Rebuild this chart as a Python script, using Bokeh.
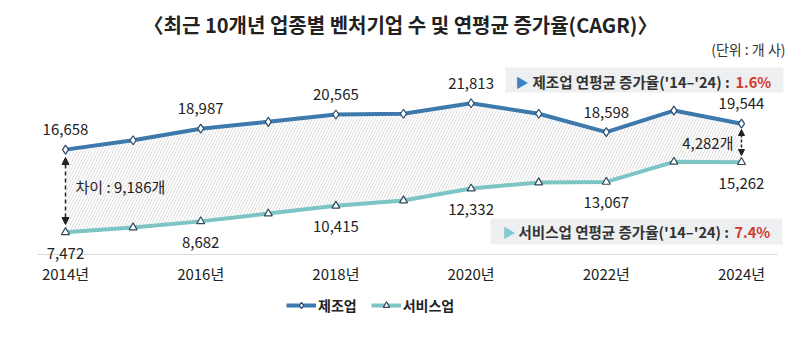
from bokeh.plotting import figure
from bokeh.models import Range1d, FixedTicker, Legend, LegendItem, Arrow, NormalHead
from bokeh.embed import file_html
from bokeh.resources import INLINE
from bokeh.core.properties import value

# ---------------- data ----------------
years = [2014, 2015, 2016, 2017, 2018, 2019, 2020, 2021, 2022, 2023, 2024]
manufacturing = [16658, 17700, 18987, 19750, 20565, 20650, 21813, 20650, 18598, 21000, 19544]
services = [7472, 8000, 8682, 9550, 10415, 11000, 12332, 13000, 13067, 15300, 15262]
labeled_years = [2014, 2016, 2018, 2020, 2022, 2024]
tick_labels = ["2014년", "2016년", "2018년", "2020년", "2022년", "2024년"]
series_names = ["제조업", "서비스업"]
cagr_values = ["1.6%", "7.4%"]
title_text = "〈최근 10개년 업종별 벤처기업 수 및 연평균 증가율(CAGR)〉"
unit_text = "(단위 : 개 사)"
axis_base = 5000

FONT = "Noto Sans CJK KR"
C_MAN = "#3D79AC"
C_SER = "#7DC5C4"
C_TXT = "#222222"
C_RED = "#D23A32"

W, H = 800, 337
BASE_PY = 254                      # pixel row of the axis baseline
X0, XS = 2013.0385, 67.6           # data x at left edge, px per year
YS = 0.008995                      # px per unit on y


def px2x(px):
    return X0 + px / XS


def py2y(py):
    return axis_base + (BASE_PY - py) / YS


p = figure(width=W, height=H, output_backend="svg", toolbar_location=None,
           x_range=Range1d(X0, X0 + W / XS), y_range=Range1d(py2y(H), py2y(0)),
           y_axis_location=None, min_border_left=0, min_border_right=0,
           min_border_top=0, min_border_bottom=0)
p.outline_line_color = None
p.xgrid.visible = False
p.ygrid.visible = False
p.background_fill_color = "white"
p.border_fill_color = "white"

# x axis, drawn at the baseline value inside the plot area
ax = p.xaxis[0]
ax.fixed_location = axis_base
ax.ticker = FixedTicker(ticks=labeled_years)
ax.major_label_overrides = {y: t for y, t in zip(labeled_years, tick_labels)}
ax.axis_line_color = None
ax.major_tick_line_color = None
ax.minor_tick_line_color = None
ax.major_tick_out = 0
ax.major_tick_in = 0
ax.minor_tick_out = 0
ax.major_label_standoff = 8
ax.major_label_text_font = FONT
ax.major_label_text_font_size = "15px"
ax.major_label_text_color = C_TXT

# baseline
p.segment(x0=[px2x(37)], y0=[axis_base], x1=[px2x(777)], y1=[axis_base],
          line_color="#d9d9d9", line_width=1)

# hatched gap
p.varea(x=years, y1=services, y2=manufacturing, fill_alpha=0,
        hatch_pattern="/", hatch_color="#d4d4d4", hatch_scale=6, hatch_weight=0.8)

# lines + markers
lm = p.line(years, manufacturing, line_width=4, line_color=C_MAN)
sm = p.scatter(years, manufacturing, marker="diamond", size=9, fill_color="white",
               line_color="#2A4B6E", line_width=1.2)
ls = p.line(years, services, line_width=4, line_color=C_SER)
ss = p.scatter(years, services, marker="triangle", size=8, fill_color="white",
               line_color="#2E4A5C", line_width=1.2)

# data labels
m_lab = [manufacturing[years.index(y)] for y in labeled_years]
s_lab = [services[years.index(y)] for y in labeled_years]
p.text(x=labeled_years, y=m_lab, text=[f"{v:,}" for v in m_lab], y_offset=-20,
       text_align="center", text_baseline="middle", text_font=value(FONT),
       text_font_size="15px", text_color=C_TXT)
p.text(x=labeled_years, y=s_lab, text=[f"{v:,}" for v in s_lab], y_offset=21,
       text_align="center", text_baseline="middle", text_font=value(FONT),
       text_font_size="15px", text_color=C_TXT)

# title & unit
p.text(x=[px2x(400)], y=[py2y(24)], text=[title_text], text_align="center",
       text_baseline="middle", text_font=value(FONT), text_font_size="20px",
       text_font_style="bold", text_color=C_TXT)
p.text(x=[px2x(785)], y=[py2y(48)], text=[unit_text], text_align="right",
       text_baseline="middle", text_font=value(FONT), text_font_size="14px",
       text_color="#333333")

# gap arrows
d0 = manufacturing[0] - services[0]
d1 = manufacturing[-1] - services[-1]
p.add_layout(Arrow(start=NormalHead(size=7, fill_color=C_TXT, line_color=C_TXT),
                   end=NormalHead(size=7, fill_color=C_TXT, line_color=C_TXT),
                   x_start=years[0], y_start=py2y(157), x_end=years[0], y_end=py2y(224),
                   line_dash="4 3", line_width=1.5, line_color=C_TXT))
p.add_layout(Arrow(start=NormalHead(size=6, fill_color=C_TXT, line_color=C_TXT),
                   end=NormalHead(size=6, fill_color=C_TXT, line_color=C_TXT),
                   x_start=years[-1], y_start=py2y(129), x_end=years[-1], y_end=py2y(155),
                   line_dash="3 2", line_width=1.5, line_color=C_TXT))
p.text(x=[years[0]], y=[(manufacturing[0] + services[0]) / 2], text=[f"차이 : {d0:,}개"],
       x_offset=10, y_offset=-4, text_align="left", text_baseline="middle",
       text_font=value(FONT), text_font_size="15px", text_color=C_TXT)
p.text(x=[years[-1]], y=[(manufacturing[-1] + services[-1]) / 2], text=[f"{d1:,}개"],
       x_offset=-8, text_align="right", text_baseline="middle",
       text_font=value(FONT), text_font_size="15px", text_color=C_TXT)

# CAGR boxes
boxes = [
    dict(l=505, r=783, t=67, b=92, cy=80.5, tri_x=515, txt_x=532, val_x=735,
         tri_c="#3D80C2", txt=f"{series_names[0]} 연평균 증가율('14–'24) : ", val=cagr_values[0]),
    dict(l=490, r=782, t=218, b=244, cy=231, tri_x=502, txt_x=518, val_x=734,
         tri_c="#80CBCF", txt=f"{series_names[1]} 연평균 증가율('14–'24) : ", val=cagr_values[1]),
]
for bx in boxes:
    p.quad(left=[px2x(bx["l"])], right=[px2x(bx["r"])], top=[py2y(bx["t"])],
           bottom=[py2y(bx["b"])], fill_color="#EDEFF1", line_color=None)
    p.text(x=[px2x(bx["tri_x"])], y=[py2y(bx["cy"])], text=["▶"], text_align="left",
           text_baseline="middle", text_font=value(FONT), text_font_size="13px",
           text_color=bx["tri_c"])
    p.text(x=[px2x(bx["txt_x"])], y=[py2y(bx["cy"])], text=[bx["txt"]], text_align="left",
           text_baseline="middle", text_font=value(FONT), text_font_size="14.5px",
           text_font_style="bold", text_color="#333333")
    p.text(x=[px2x(bx["val_x"])], y=[py2y(bx["cy"])], text=[bx["val"]], text_align="left",
           text_baseline="middle", text_font=value(FONT), text_font_size="14.5px",
           text_font_style="bold", text_color=C_RED)

# legend, inside the plot area below the axis labels
legend = Legend(items=[LegendItem(label=series_names[0], renderers=[lm, sm]),
                       LegendItem(label=series_names[1], renderers=[ls, ss])],
                orientation="horizontal", location=(286, 22),
                label_text_font=FONT, label_text_font_size="14px",
                label_text_font_style="bold", label_text_color=C_TXT,
                glyph_width=30, glyph_height=16, spacing=14, label_standoff=2,
                padding=6, margin=0, border_line_color=None, background_fill_alpha=0)
p.add_layout(legend)

open("out.html", "w").write(file_html(p, INLINE))
